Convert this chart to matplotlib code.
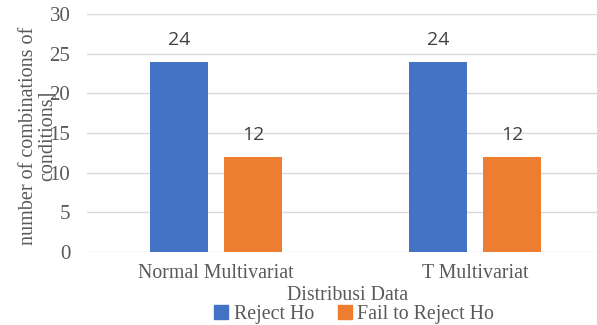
import matplotlib
matplotlib.use("Agg")
import matplotlib.pyplot as plt
import numpy as np
from matplotlib.patches import Patch

# Data
categories = ["Normal Multivariat", "T Multivariat"]
series_names = ["Reject Ho", "Fail to Reject Ho"]
reject_ho = [24, 24]
fail_to_reject = [12, 12]

colors = ["#4472C4", "#ED7D31"]
text_color = "#595959"
serif = "Liberation Serif"

fig = plt.figure(figsize=(5.97, 3.25), dpi=100)
ax = fig.add_axes([87 / 597, 73 / 325, 1 - 87 / 597, 238 / 325])

x = np.arange(len(categories))
bar_w = 0.224
offset = 0.143
bars1 = ax.bar(x - offset, reject_ho, bar_w, color=colors[0], zorder=3)
bars2 = ax.bar(x + offset, fail_to_reject, bar_w, color=colors[1], zorder=3)

for bars in (bars1, bars2):
    for b in bars:
        h = b.get_height()
        ax.annotate(f"{h:g}", xy=(b.get_x() + b.get_width() / 2, h), xytext=(0, 9),
                    textcoords="offset points", ha="center", va="bottom",
                    fontsize=14, color="#404040", family="Open Sans")

ax.set_xlim(-0.498, 1.471)
ax.set_ylim(0, 30)
ax.set_yticks(range(0, 31, 5))
ax.grid(axis="y", color="#d9d9d9", linewidth=1.0, zorder=0)
for s in ax.spines.values():
    s.set_visible(False)
ax.tick_params(axis="y", length=0, colors=text_color, labelsize=15, pad=12)
ax.set_xticks(x)
ax.set_xticklabels(categories, family=serif)
for lbl in ax.get_yticklabels():
    lbl.set_family(serif)
ax.tick_params(axis="x", length=0, colors=text_color, pad=9, labelsize=14.3)

fig.text(348 / 597, 1 - 295 / 325, "Distribusi Data", ha="center", va="center",
         fontsize=14.3, color=text_color, family=serif)
fig.text(38 / 597, 1 - 136 / 325, "number of combinations of\nconditions]", rotation=90,
         ha="center", va="center", fontsize=14.5, color=text_color, family=serif,
         linespacing=1.0)

handles = [Patch(color=c) for c in colors]
fig.legend(handles, series_names, loc="center", bbox_to_anchor=(354 / 597, 1 - 314 / 325),
           ncol=2, frameon=False, handlelength=0.7, handleheight=0.7,
           handletextpad=0.3, columnspacing=1.2, labelcolor=text_color,
           prop={"family": serif, "size": 14.3})

fig.savefig("out.png", dpi=100)
